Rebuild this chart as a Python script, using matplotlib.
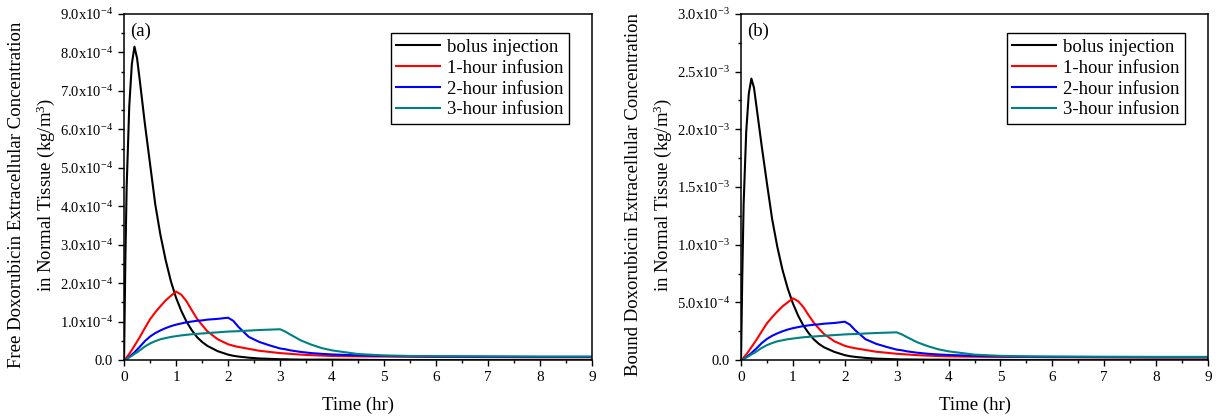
import numpy as np
import matplotlib
matplotlib.use("Agg")
import matplotlib.pyplot as plt
from matplotlib import ticker

plt.rcParams.update({
    "font.family": "Liberation Serif",
    "mathtext.fontset": "custom",
    "mathtext.rm": "Liberation Serif",
    "mathtext.it": "Liberation Serif:italic",
    "font.size": 11,
})

# time (hr)
t = [0, 0.025, 0.05, 0.1, 0.15, 0.2, 0.25, 0.3, 0.4, 0.5, 0.6, 0.7, 0.8, 0.9, 1.0,
     1.1, 1.2, 1.3, 1.4, 1.5, 1.6, 1.8, 2.0, 2.1, 2.2, 2.4, 2.6, 2.8, 3.0,
     3.1, 3.2, 3.4, 3.6, 3.8, 4.0, 4.5, 5.0, 5.5, 6.0, 7.0, 8.0, 9.0]

# free doxorubicin, units of 1e-4 kg/m^3
free_bolus = [0, 2.6, 4.5, 6.6, 7.7, 8.15, 7.85, 7.3, 6.15, 5.1, 4.05, 3.25, 2.6, 2.05, 1.62,
              1.28, 1.0, 0.78, 0.6, 0.47, 0.37, 0.23, 0.14, 0.11, 0.09, 0.06, 0.04, 0.03, 0.02,
              0.02, 0.015, 0.01, 0.01, 0.01, 0.01, 0.005, 0, 0, 0, 0, 0, 0]
free_1h = [0, 0.03, 0.07, 0.16, 0.26, 0.37, 0.48, 0.59, 0.83, 1.06, 1.24, 1.40, 1.55, 1.67, 1.78,
           1.70, 1.53, 1.30, 1.08, 0.91, 0.75, 0.54, 0.41, 0.37, 0.34, 0.29, 0.24, 0.21, 0.18,
           0.17, 0.16, 0.14, 0.125, 0.115, 0.105, 0.095, 0.09, 0.085, 0.08, 0.075, 0.07, 0.07]
free_2h = [0, 0.01, 0.03, 0.08, 0.14, 0.20, 0.27, 0.34, 0.49, 0.61, 0.70, 0.77, 0.83, 0.88, 0.92,
           0.95, 0.98, 1.00, 1.02, 1.03, 1.05, 1.07, 1.10, 1.02, 0.86, 0.60, 0.47, 0.38, 0.30,
           0.28, 0.25, 0.21, 0.18, 0.16, 0.145, 0.12, 0.105, 0.095, 0.09, 0.085, 0.08, 0.08]
free_3h = [0, 0.01, 0.03, 0.07, 0.11, 0.16, 0.20, 0.25, 0.35, 0.43, 0.49, 0.54, 0.57, 0.60, 0.62,
           0.64, 0.655, 0.67, 0.68, 0.69, 0.70, 0.72, 0.74, 0.745, 0.75, 0.765, 0.78, 0.79, 0.80,
           0.74, 0.66, 0.51, 0.40, 0.31, 0.25, 0.155, 0.12, 0.105, 0.10, 0.095, 0.09, 0.09]

# bound doxorubicin, units of 1e-4 kg/m^3
bound_bolus = [0, 7.5, 13.5, 19.8, 23.1, 24.4, 23.6, 21.9, 18.5, 15.3, 12.2, 9.8, 7.8, 6.2, 4.9,
               3.85, 3.0, 2.35, 1.8, 1.4, 1.1, 0.7, 0.42, 0.33, 0.27, 0.18, 0.12, 0.09, 0.06,
               0.05, 0.05, 0.04, 0.03, 0.03, 0.02, 0.01, 0.01, 0, 0, 0, 0, 0]
bound_1h = [0, 0.09, 0.21, 0.48, 0.78, 1.11, 1.44, 1.77, 2.49, 3.18, 3.72, 4.2, 4.65, 5.0, 5.35,
            5.1, 4.6, 3.9, 3.25, 2.73, 2.25, 1.62, 1.23, 1.11, 1.02, 0.87, 0.72, 0.63, 0.54,
            0.51, 0.48, 0.42, 0.375, 0.345, 0.315, 0.285, 0.27, 0.255, 0.24, 0.225, 0.21, 0.21]
bound_2h = [0, 0.03, 0.09, 0.24, 0.42, 0.6, 0.81, 1.02, 1.47, 1.83, 2.1, 2.31, 2.49, 2.64, 2.76,
            2.85, 2.94, 3.0, 3.06, 3.09, 3.15, 3.21, 3.32, 3.06, 2.58, 1.8, 1.41, 1.14, 0.9,
            0.84, 0.75, 0.63, 0.54, 0.48, 0.435, 0.36, 0.315, 0.285, 0.27, 0.255, 0.24, 0.24]
bound_3h = [0, 0.03, 0.09, 0.21, 0.33, 0.48, 0.6, 0.75, 1.05, 1.29, 1.47, 1.62, 1.71, 1.8, 1.86,
            1.92, 1.97, 2.01, 2.04, 2.07, 2.1, 2.16, 2.22, 2.24, 2.25, 2.3, 2.34, 2.37, 2.4,
            2.22, 1.98, 1.53, 1.2, 0.93, 0.75, 0.465, 0.36, 0.315, 0.3, 0.285, 0.27, 0.27]

labels = ["bolus injection", "1-hour infusion", "2-hour infusion", "3-hour infusion"]
colors = ["black", "red", "blue", "#008080"]
unit = 1e-4


def sci_fmt(v, pos):
    if v <= 1e-12:
        return "0.0"
    e = int(np.floor(np.log10(v) + 1e-9))
    m = v / 10.0 ** e
    return "%.1fx10$^{%d}$" % (m, e)


def panel(ax, series, ymax, ystep, tag, ylabel):
    for y, lab, c in zip(series, labels, colors):
        ax.plot(t, np.array(y) * unit, color=c, lw=1.5, label=lab)
    ax.set_xlim(0, 9)
    ax.set_ylim(0, ymax)
    ax.set_xticks(range(0, 10))
    ax.xaxis.set_minor_locator(ticker.MultipleLocator(0.5))
    ax.set_yticks(np.arange(0, ymax + ystep / 2, ystep))
    ax.yaxis.set_minor_locator(ticker.MultipleLocator(ystep / 2))
    ax.yaxis.set_major_formatter(ticker.FuncFormatter(sci_fmt))
    ax.tick_params(which="major", direction="out", length=4.5, width=1, labelsize=11)
    ax.tick_params(axis="y", labelsize=10.5)
    ax.tick_params(which="minor", direction="out", length=2.5, width=1)
    for s in ax.spines.values():
        s.set_linewidth(1.1)
    ax.set_xlabel("Time (hr)", fontsize=13.5, labelpad=9)
    ax.set_ylabel(ylabel, fontsize=13.5, labelpad=2, linespacing=1.6)
    ax.yaxis.label.set_y(0.477)
    ax.text(0.012, 0.975, tag, transform=ax.transAxes, fontsize=13.5, va="top", ha="left")
    ax.legend(loc="upper right", bbox_to_anchor=(0.951, 0.945), borderaxespad=0,
              fontsize=13.5, fancybox=False, edgecolor="black", framealpha=1,
              handlelength=2.3, handletextpad=0.4, borderpad=0.3, labelspacing=0.2)


fig = plt.figure(figsize=(12.21, 4.19), dpi=100)
ax1 = fig.add_axes([0.1016, 0.1408, 0.3833, 0.8258])
ax2 = fig.add_axes([0.6069, 0.1408, 0.3825, 0.8258])

panel(ax1, [free_bolus, free_1h, free_2h, free_3h], 9e-4, 1e-4, "(a)",
      "Free Doxorubicin Extracellular Concentration\nin Normal Tissue (kg/m$^{3}$)")
panel(ax2, [bound_bolus, bound_1h, bound_2h, bound_3h], 3e-3, 5e-4, "(b)",
      "Bound Doxorubicin Extracellular Concentration\nin Normal Tissue (kg/m$^{3}$)")

fig.savefig("out.png", dpi=100)
